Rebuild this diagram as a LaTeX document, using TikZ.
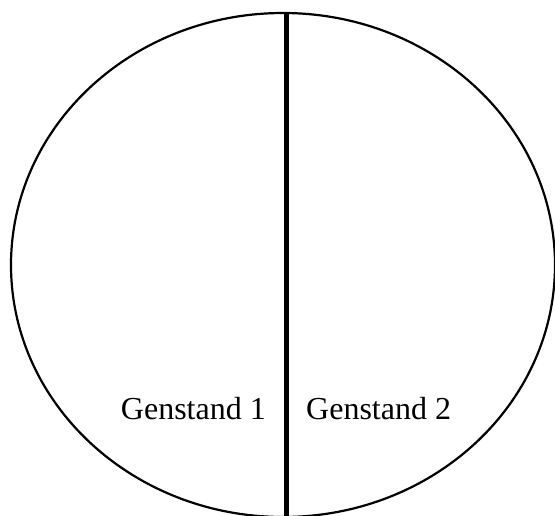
\documentclass[tikz,border=0pt]{standalone}
\usepackage{fontspec}
\setmainfont{Liberation Serif}
\begin{document}
\begin{tikzpicture}[x=1pt,y=-1pt,
  outline/.style={draw=black,line width=2.2pt},
  divider/.style={draw=black,line width=5pt},
  label/.style={inner sep=0pt,font=\fontsize{32}{36}\selectfont}]
\useasboundingbox (0,0) rectangle (555,515);
\draw[outline] (283,265) ellipse [x radius=272, y radius=252];
\coordinate (top) at (286,12);
\coordinate (bot) at (286,520);
\draw[divider] (top) -- (bot);
\node[label,anchor=base east] (g1) at (266,419) {Genstand 1};
\node[label,anchor=base west] (g2) at (306,419) {Genstand 2};
\end{tikzpicture}
\end{document}
